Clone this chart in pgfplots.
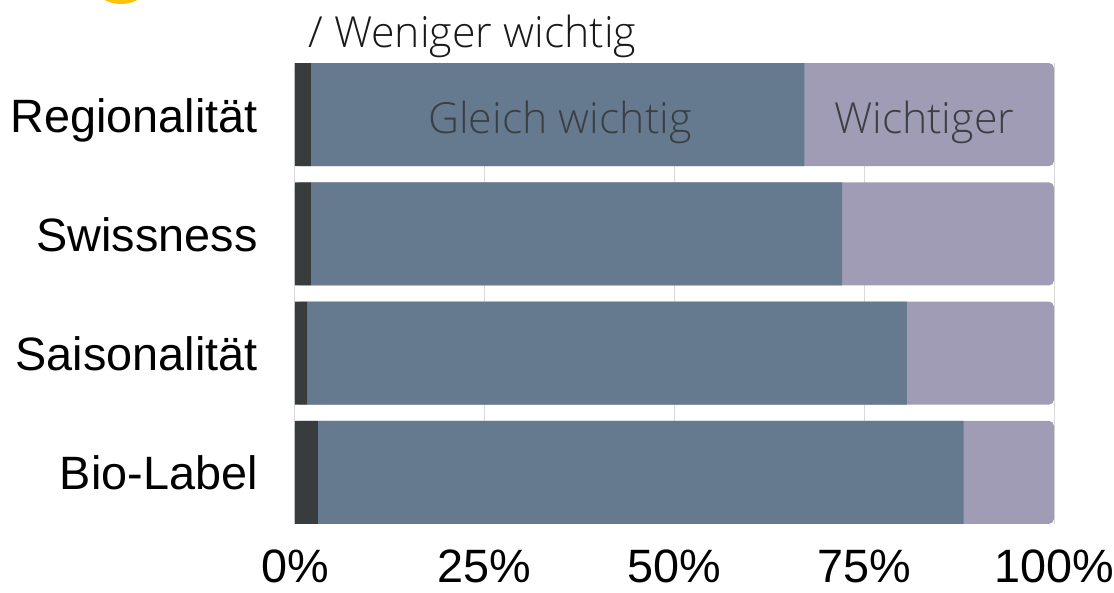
\documentclass[border=0pt]{standalone}
\usepackage{pgfplots}
\usepackage{pgfplotstable}
\pgfplotsset{compat=1.18}
\usepackage{fontspec}
\setmainfont{Liberation Sans}
\newfontfamily\osl{Open Sans Light}
\definecolor{cdark}{HTML}{383C3D}
\definecolor{cslate}{HTML}{667A8F}
\definecolor{clav}{HTML}{A09CB5}
\definecolor{cgrid}{HTML}{D9D9D9}
\definecolor{cyel}{HTML}{FFC20A}
\definecolor{ctext}{HTML}{3A3F44}

\pgfplotstableread{
idx d g l
0 2.1 65.0 32.9
1 2.1 70.0 27.9
2 1.6 79.0 19.4
3 3.0 85.1 11.9
}\data

\begin{document}
\begin{tikzpicture}
\pgfplotsset{base/.style={width=379.5pt,height=230.5pt,scale only axis,
  xmin=0,xmax=100,ymin=-0.4328,ymax=3.4328,y dir=reverse,
  at={(0,0)},anchor=south west,bar width=51.5pt}}
\begin{axis}[base, xbar,
  axis line style={draw=none}, major tick length=0pt,
  xtick={0,25,50,75,100}, xticklabels={0\%,25\%,50\%,75\%,100\%},
  ytick={0,1,2,3}, yticklabels={Regionalität,Swissness,Saisonalität,Bio-Label},
  tick label style={font=\fontsize{23.4}{28}\selectfont},
  xmajorgrids, grid style={cgrid, line width=0.5pt},
  xticklabel style={anchor=north, inner sep=0pt, yshift=-12.8pt},
  yticklabel style={anchor=base east, inner sep=0pt, xshift=-18.5pt, yshift=-8.75pt}]
\addplot[fill=clav, draw=none, rounded corners=2.5pt]
  table[x expr=\thisrow{d}+\thisrow{g}+\thisrow{l}, y=idx]{\data};
\end{axis}
\begin{axis}[base, xbar stacked, hide axis]
\addplot[fill=cdark, draw=none] table[x=d, y=idx]{\data};
\addplot[fill=cslate, draw=none] table[x=g, y=idx]{\data};
\end{axis}
\begin{axis}[base, hide axis]
\node[font=\osl\fontsize{21.4}{25}\selectfont, text=ctext, anchor=base, inner sep=0pt]
  at (axis cs:34.9,0.155) {Gleich wichtig};
\node[font=\osl\fontsize{21.4}{25}\selectfont, text=ctext, anchor=base, inner sep=0pt]
  at (axis cs:82.9,0.155) {Wichtiger};
\end{axis}
\node[font=\osl\fontsize{21.4}{25}\selectfont, text=black!90, anchor=base west, inner sep=0pt]
  at (6.5pt,238pt) {/ Weniger wichtig};
\fill[cyel] (-87pt,278pt) circle (18pt);
\pgfresetboundingbox
\path (-147.5pt,-34.5pt) rectangle (409.5pt,262pt);
\end{tikzpicture}
\end{document}
